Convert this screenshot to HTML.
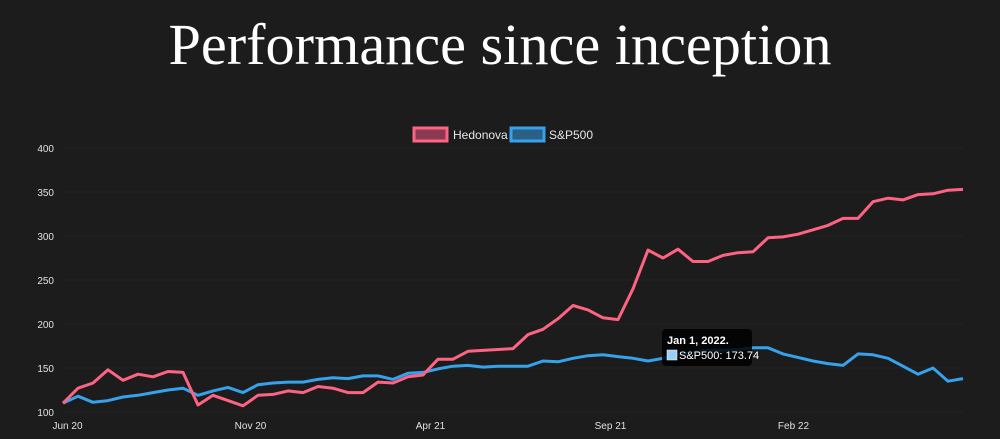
<!DOCTYPE html>
<html><head><meta charset="utf-8"><style>
html,body{margin:0;padding:0;background:#1c1c1c;}
svg{display:block}
</style></head><body>
<svg width="1000" height="439" viewBox="0 0 1000 439">
<rect x="0" y="0" width="1000" height="439" fill="#1c1c1c"/>
<text x="500" y="64" text-anchor="middle" font-family="Liberation Serif, serif" font-size="58" fill="#ffffff" textLength="663" lengthAdjust="spacingAndGlyphs">Performance since inception</text>
<g>
<rect x="414" y="128" width="33" height="13" fill="#8a3a50" stroke="#ff6384" stroke-width="3"/>
<text x="453" y="139" font-family="Liberation Sans, sans-serif" font-size="12" fill="#e6e6e6">Hedonova</text>
<rect x="511" y="128" width="33" height="13" fill="#2a5f86" stroke="#36a2eb" stroke-width="3"/>
<text x="549" y="139" font-family="Liberation Sans, sans-serif" font-size="12" fill="#e6e6e6">S&amp;P500</text>
</g>
<g id="grid"></g>
<g id="yaxis"></g>
<g id="xaxis"></g>
<g id="series"></g>
<g>
<rect x="662" y="329" width="90" height="37" rx="4" fill="#000000" fill-opacity="0.85"/>
<text x="667" y="344" font-family="Liberation Sans, sans-serif" font-size="11" font-weight="bold" fill="#ffffff">Jan 1, 2022.</text>
<rect x="667" y="350" width="10" height="10" fill="#9ad0f5" stroke="#ffffff" stroke-width="0.5"/>
<text x="679" y="359" font-family="Liberation Sans, sans-serif" font-size="11" fill="#ffffff">S&amp;P500: 173.74</text>
</g>
</svg>
<script>
const pointIndex = [0,1,2,3,4,5,6,7,8,9,10,11,12,13,14,15,16,17,18,19,20,21,22,23,24,25,26,27,28,29,30,31,32,33,34,35,36,37,38,39,40,41,42,43,44,45,46,47,48,49,50,51,52,53,54,55,56,57,58,59,60];
const hedonova = [110,127,133,148,136,143,140,146,145,108,119,113,107,119,120,124,122,129,127,122,122,134,133,140,142,160,160,169,170,171,172,188,194,206,221,216,207,205,240,284,275,285,271,271,278,281,282,298,299,302,307,312,320,320,339,343,341,347,348,352,353];
const sp500 = [110,118,111,113,117,119,122,125,127,119,124,128,122,131,133,134,134,137,139,138,141,141,137,144,145,149,152,153,151,152,152,152,158,157,161,164,165,163,161,158,161,165,168,170,170,171,173,173,166,162,158,155,153,166,165,161,152,143,150,135,138];
const yTicks = [100,150,200,250,300,350,400];
const xTickLabels = ["Jun 20","Nov 20","Apr 21","Sep 21","Feb 22"];
const xTickIndex = [0.3,12.5,24.5,36.5,48.7];

const NS="http://www.w3.org/2000/svg";
const X0=63,X1=963,Y0=412,Y1=148,VMIN=100,VMAX=400;
function xs(i){return X0+(X1-X0)*i/(pointIndex.length-1);}
function ys(v){return Y0-(v-VMIN)*(Y0-Y1)/(VMAX-VMIN);}
const grid=document.getElementById('grid'),ya=document.getElementById('yaxis'),xa=document.getElementById('xaxis'),ser=document.getElementById('series');
yTicks.forEach(t=>{
  const l=document.createElementNS(NS,'line');
  l.setAttribute('x1',X0);l.setAttribute('x2',X1);l.setAttribute('y1',ys(t));l.setAttribute('y2',ys(t));
  l.setAttribute('stroke','#222222');l.setAttribute('stroke-width','1');
  
  
  grid.appendChild(l);
  const tx=document.createElementNS(NS,'text');
  tx.setAttribute('x',54);tx.setAttribute('y',ys(t)+4);tx.setAttribute('text-anchor','end');
  tx.setAttribute('font-family','Liberation Sans, sans-serif');tx.setAttribute('font-size','10');tx.setAttribute('fill','#e0e0e0');
  tx.textContent=t;
  
  
  ya.appendChild(tx);
});
xTickLabels.forEach((lab,k)=>{
  const tx=document.createElementNS(NS,'text');
  tx.setAttribute('x',xs(xTickIndex[k]));tx.setAttribute('y',429);tx.setAttribute('text-anchor','middle');
  tx.setAttribute('font-family','Liberation Sans, sans-serif');tx.setAttribute('font-size','10');tx.setAttribute('fill','#e0e0e0');
  tx.textContent=lab;
  
  
  xa.appendChild(tx);
});
function line(vals,color,name){
  const p=document.createElementNS(NS,'polyline');
  p.setAttribute('points',vals.map((v,i)=>xs(pointIndex[i]).toFixed(1)+','+ys(v).toFixed(1)).join(' '));
  p.setAttribute('fill','none');p.setAttribute('stroke',color);p.setAttribute('stroke-width','3');p.setAttribute('stroke-linejoin','round');
  
  
  ser.appendChild(p);
}
line(sp500,'#36a2eb','sp500-line');
line(hedonova,'#ff6384','hedonova-line');
</script>
</body></html>
